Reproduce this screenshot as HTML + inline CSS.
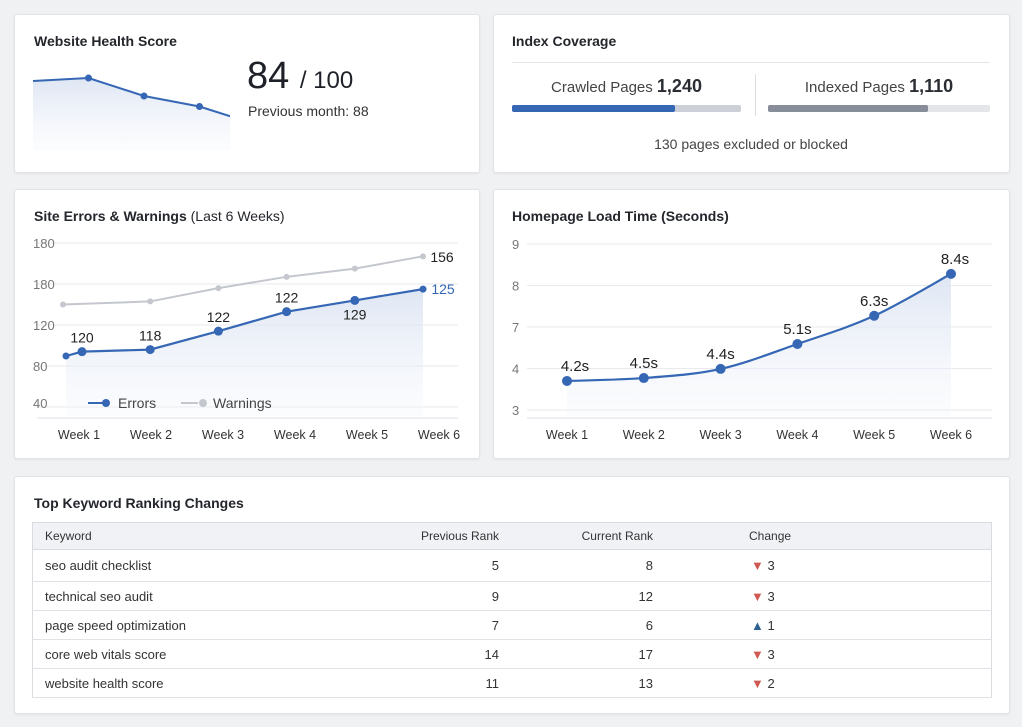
<!DOCTYPE html>
<html><head><meta charset="utf-8">
<style>
body{margin:0;width:1022px;height:727px;background:#f0f1f3;font-family:"Liberation Sans",sans-serif;color:#222;position:relative;overflow:hidden}
.card{position:absolute;background:#fff;border:1px solid #e1e3e7;border-radius:3px;box-shadow:0 1px 2px rgba(0,0,0,.06)}
.title{position:absolute;font-size:14px;font-weight:bold;color:#23262b}
svg{position:absolute;left:0;top:0}
table{position:absolute;left:32px;top:522px;width:960px;border-collapse:collapse;font-size:13px;color:#333;border:1px solid #d8dbe0}
th{background:#f1f2f5;font-weight:normal;height:26px;text-align:left;padding:0 12px;font-size:12px;color:#333;border-bottom:1px solid #d8dbe0}
td{height:28px;padding:0 12px;border-bottom:1px solid #dfe2e6}
.r{text-align:right}
.dn{color:#d05a52}.up{color:#2d5f8f}
</style></head><body>
<div class="card" style="left:14px;top:14px;width:464px;height:157px"></div>
<div class="card" style="left:493px;top:14px;width:515px;height:157px"></div>
<div class="card" style="left:14px;top:189px;width:464px;height:268px"></div>
<div class="card" style="left:493px;top:189px;width:515px;height:268px"></div>
<div class="card" style="left:14px;top:476px;width:994px;height:236px"></div>

<div class="title" style="left:34px;top:33px">Website Health Score</div>
<div style="position:absolute;left:247px;top:55px;font-size:38px;color:#1e2127">84 <span style="font-size:24px">/ 100</span></div>
<div style="position:absolute;left:248px;top:103px;font-size:14px;color:#333">Previous month: 88</div>

<div class="title" style="left:512px;top:33px">Index Coverage</div>
<div style="position:absolute;left:512px;top:62px;width:478px;height:1px;background:#e3e5e9"></div>
<div style="position:absolute;left:512px;width:229px;text-align:center;top:76px;font-size:15px;color:#444">Crawled Pages <b style="font-size:18px;color:#2a2d33">1,240</b></div>
<div style="position:absolute;left:512px;top:105px;width:229px;height:7px;background:#cdd0d6;border-radius:2px"><div style="width:163px;height:7px;background:#3567b5;border-radius:2px"></div></div>
<div style="position:absolute;left:755px;top:74px;width:1px;height:42px;background:#dcdee2"></div>
<div style="position:absolute;left:768px;width:222px;text-align:center;top:76px;font-size:15px;color:#444">Indexed Pages <b style="font-size:18px;color:#2a2d33">1,110</b></div>
<div style="position:absolute;left:768px;top:105px;width:222px;height:7px;background:#e3e5e9;border-radius:2px"><div style="width:160px;height:7px;background:#878d99;border-radius:2px"></div></div>
<div style="position:absolute;left:512px;width:478px;text-align:center;top:136px;font-size:14px;color:#444">130 pages excluded or blocked</div>

<div class="title" style="left:34px;top:208px;font-weight:normal"><b>Site Errors &amp; Warnings</b> (Last 6 Weeks)</div>
<div class="title" style="left:512px;top:208px">Homepage Load Time (Seconds)</div>
<div class="title" style="left:34px;top:495px">Top Keyword Ranking Changes</div>

<svg id="chart" width="1022" height="727">
<defs>
<linearGradient id="fade" x1="0" y1="0" x2="0" y2="1"><stop offset="0" stop-color="#dbe3f2" stop-opacity=".9"/><stop offset="1" stop-color="#eef2f9" stop-opacity=".2"/></linearGradient>
<clipPath id="hclip"><rect x="30" y="60" width="200" height="100"/></clipPath>
</defs>
</svg>

<table>
<tr><th style="width:300px">Keyword</th><th class="r" style="width:130px">Previous Rank</th><th class="r" style="width:130px">Current Rank</th><th style="padding-left:84px">Change</th></tr>
<tr><td style="height:31px">seo audit checklist</td><td class="r">5</td><td class="r">8</td><td style="padding-left:86px"><span class="dn">▼</span> 3</td></tr>
<tr><td>technical seo audit</td><td class="r">9</td><td class="r">12</td><td style="padding-left:86px"><span class="dn">▼</span> 3</td></tr>
<tr><td>page speed optimization</td><td class="r">7</td><td class="r">6</td><td style="padding-left:86px"><span class="up">▲</span> 1</td></tr>
<tr><td>core web vitals score</td><td class="r">14</td><td class="r">17</td><td style="padding-left:86px"><span class="dn">▼</span> 3</td></tr>
<tr><td>website health score</td><td class="r">11</td><td class="r">13</td><td style="padding-left:86px"><span class="dn">▼</span> 2</td></tr>
</table>

<script>
const healthValues=[90,91,85,81.5,75.6];
const weeks=["Week 1","Week 2","Week 3","Week 4","Week 5","Week 6"];
const errorsValues=[94,96,114,133,144,155];
const errorsLabels=["120","118","122","122","129","125"];
const warningsValues=[140,143,156,167,175,187];
const errorsTickValues=[40,80,120,160,200];
const errorsTickLabels=["40","80","120","180","180"];
const loadValues=[3.7,3.77,3.99,4.59,5.27,6.28];
const loadLabels=["4.2s","4.5s","4.4s","5.1s","6.3s","8.4s"];
const loadTickValues=[3,4,5,6,7];
const loadTickLabels=["3","4","7","8","9"];

const svg=document.getElementById('chart');
const NS='http://www.w3.org/2000/svg';
function mk(tag,attrs,text){const e=document.createElementNS(NS,tag);for(const k in attrs)e.setAttribute(k,attrs[k]);if(text!==undefined)e.textContent=text;svg.appendChild(e);return e;}

// health sparkline
const hx=i=>33+i*55.5, hy=v=>78+(91-v)*3;
let hp=healthValues.map((v,i)=>[hx(i),hy(v)]);
let area=mk('path',{d:'M'+hp.map(p=>p.join(',')).join('L')+`L${hx(4)},150L${hx(0)},150Z`,fill:'url(#fade)','clip-path':'url(#hclip)'});


let hl=mk('polyline',{points:hp.map(p=>p.join(',')).join(' '),fill:'none',stroke:'#3567b5','stroke-width':2,'clip-path':'url(#hclip)'});


hp.slice(1,4).forEach(p=>{const c=mk('circle',{cx:p[0],cy:p[1],r:3.5,fill:'#3567b5'});

});

// errors chart
const ex=i=>82+i*68.2, ey=v=>448-v*1.025, exl=i=>79+i*72;
errorsTickValues.forEach((t,i)=>{
 const g=mk('line',{x1:37,x2:458,y1:ey(t),y2:ey(t),stroke:'#e8eaee'});
 
 
 const l=mk('text',{x:33,y:ey(t)+(i==0?1:5),'font-size':13,fill:'#777'},errorsTickLabels[i]);
 
 
});
let ax=mk('line',{x1:37,x2:458,y1:418,y2:418,stroke:'#dcdfe4'});


weeks.forEach((w,i)=>{const t=mk('text',{x:exl(i),y:439,'font-size':12.5,fill:'#333','text-anchor':'middle'},w);

});
let ep=errorsValues.map((v,i)=>[ex(i),ey(v)]);
let ea=mk('path',{d:`M66,356L`+ep.map(p=>p.join(',')).join('L')+`L${ex(5)},416L66,416Z`,fill:'url(#fade)'});


let wp=warningsValues.map((v,i)=>[ex(i)-(i==0?19:0),ey(v)]);
let wl=mk('polyline',{points:wp.map(p=>p.join(',')).join(' '),fill:'none',stroke:'#c4c7cd','stroke-width':2});


wp.forEach(p=>{const c=mk('circle',{cx:p[0],cy:p[1],r:3,fill:'#c4c7cd'});

});
let el=mk('polyline',{points:'66,356 '+ep.map(p=>p.join(',')).join(' '),fill:'none',stroke:'#3567b5','stroke-width':2.2});


let c0=mk('circle',{cx:66,cy:356,r:3.5,fill:'#3567b5'});


ep.forEach((p,i)=>{const c=mk('circle',{cx:p[0],cy:p[1],r:i==5?3.5:4.5,fill:'#3567b5'});


const last=i==5;
const t=mk('text',{x:last?p[0]+20:p[0],y:last?p[1]+5:(i==4?p[1]+19:p[1]-9),'font-size':14,fill:last?'#3567b5':'#222','text-anchor':'middle'},errorsLabels[i]);

});
let wlab=mk('text',{x:442,y:262,'font-size':14,fill:'#222','text-anchor':'middle'},'156');


// legend
let lg1=mk('line',{x1:88,x2:104,y1:403,y2:403,stroke:'#3567b5','stroke-width':2});


let lc1=mk('circle',{cx:106,cy:403,r:4,fill:'#3567b5'});


let lt1=mk('text',{x:118,y:408,'font-size':14,fill:'#444'},'Errors');


let lg2=mk('line',{x1:181,x2:198,y1:403,y2:403,stroke:'#c4c7cd','stroke-width':2});


let lc2=mk('circle',{cx:203,cy:403,r:4,fill:'#c4c7cd'});


let lt2=mk('text',{x:213,y:408,'font-size':14,fill:'#444'},'Warnings');



// load chart
const lx=i=>567+i*76.8, ly=v=>410-(v-3)*41.5;
loadTickValues.forEach((t,i)=>{
 const g=mk('line',{x1:527,x2:992,y1:ly(t),y2:ly(t),stroke:'#e8eaee'});
 
 
 const l=mk('text',{x:512,y:ly(t)+5,'font-size':13,fill:'#777'},loadTickLabels[i]);
 
 
});
let lax=mk('line',{x1:527,x2:992,y1:418,y2:418,stroke:'#dcdfe4'});


weeks.forEach((w,i)=>{const t=mk('text',{x:lx(i),y:439,'font-size':12.5,fill:'#333','text-anchor':'middle'},w);

});
let lp=loadValues.map((v,i)=>[lx(i),ly(v)]);
function smooth(pts){let d='M'+pts[0].join(',');for(let i=1;i<pts.length;i++){const p0=pts[i-2]||pts[i-1],p1=pts[i-1],p2=pts[i],p3=pts[i+1]||p2;
d+=`C${p1[0]+(p2[0]-p0[0])/6},${p1[1]+(p2[1]-p0[1])/6} ${p2[0]-(p3[0]-p1[0])/6},${p2[1]-(p3[1]-p1[1])/6} ${p2[0]},${p2[1]}`;}return d;}
let la=mk('path',{d:smooth(lp)+`L${lx(5)},416L${lx(0)},416Z`,fill:'url(#fade)'});


let ll=mk('path',{d:smooth(lp),fill:'none',stroke:'#3567b5','stroke-width':2.2});


lp.forEach((p,i)=>{const c=mk('circle',{cx:p[0],cy:p[1],r:5,fill:'#3567b5'});


const t=mk('text',{x:p[0]+(i==0?8:i==5?4:0),y:p[1]-10,'font-size':15,fill:'#222','text-anchor':'middle'},loadLabels[i]);

});
</script>
</body></html>
